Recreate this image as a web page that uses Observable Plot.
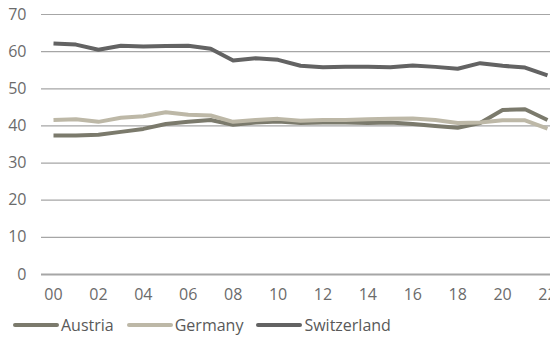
<!DOCTYPE html>
<html>
<head>
<meta charset="utf-8">
<script src="https://cdn.jsdelivr.net/npm/d3@7"></script>
<script src="https://cdn.jsdelivr.net/npm/@observablehq/plot@0.6"></script>
<style>
  html, body { margin: 0; padding: 0; background: #fff; overflow: hidden; }
  #chart { width: 550px; height: 345px; position: relative; font-family: "Open Sans", "Noto Sans", sans-serif; }
  .legend { position: absolute; left: 13px; top: 314px; display: flex; align-items: center; font-size: 16px; color: #595959; }
  .legend .item { display: flex; align-items: center; margin-right: 13px; }
  .legend .sw { width: 46px; height: 4px; border-radius: 2px; margin-right: 2px; }
</style>
</head>
<body>
<div id="chart"></div>
<script>
const years = d3.range(2000, 2023);
const austria = [37.4, 37.4, 37.6, 38.4, 39.2, 40.5, 41.1, 41.6, 40.3, 40.9, 41.2, 40.8, 40.9, 40.9, 40.8, 40.9, 40.5, 40.0, 39.5, 40.8, 44.3, 44.5, 41.6];
const germany = [41.6, 41.8, 41.1, 42.2, 42.6, 43.7, 43.0, 42.8, 41.1, 41.6, 41.9, 41.4, 41.6, 41.6, 41.8, 41.9, 42.0, 41.6, 40.8, 40.9, 41.5, 41.5, 39.3];
const switzerland = [62.2, 61.9, 60.5, 61.6, 61.4, 61.5, 61.6, 60.8, 57.6, 58.2, 57.8, 56.2, 55.8, 55.9, 55.9, 55.8, 56.3, 55.9, 55.4, 56.9, 56.2, 55.7, 53.6];
const seriesNames = ["Austria", "Germany", "Switzerland"];
const seriesColors = ["#7b7a6c", "#bdb8a7", "#636363"];
const yTicks = [0, 10, 20, 30, 40, 50, 60, 70];
const xTicks = d3.range(2000, 2023, 2);

const values = [austria, germany, switzerland];
const data = [];
seriesNames.forEach((name, i) => years.forEach((yr, j) => data.push({ name, year: yr, value: values[i][j] })));

const plot = Plot.plot({
  width: 550,
  height: 312,
  marginLeft: 41,
  marginRight: 0,
  marginTop: 14,
  marginBottom: 38,
  insetLeft: 12,
  insetRight: 3,
  style: { fontFamily: "'Open Sans', 'Noto Sans', sans-serif", fontSize: "16px", color: "#6b6b6b", overflow: "visible" },
  x: { domain: [2000, 2022], ticks: xTicks, tickFormat: d => String(d % 100).padStart(2, "0"), tickSize: 0, tickPadding: 14, label: null },
  y: { domain: [0, 70], ticks: yTicks, tickSize: 0, tickPadding: 15, label: null },
  color: { domain: seriesNames, range: seriesColors },
  marks: [
    Plot.ruleY(yTicks.filter(d => d > 0), { stroke: "#a6a6a6", strokeWidth: 1.2 }),
    Plot.ruleY([0], { stroke: "#a6a6a6", strokeWidth: 2.2 }),
    Plot.lineY(data, { x: "year", y: "value", z: "name", stroke: "name", strokeWidth: 4, strokeLinejoin: "round", strokeLinecap: "butt" })
  ]
});
document.getElementById("chart").appendChild(plot);

const legend = document.createElement("div");
legend.className = "legend";
seriesNames.forEach((n, i) => {
  const item = document.createElement("div");
  item.className = "item";
  const sw = document.createElement("span");
  sw.className = "sw";
  sw.style.background = seriesColors[i];
  const lab = document.createElement("span");
  lab.textContent = n;
  item.appendChild(sw);
  item.appendChild(lab);
  legend.appendChild(item);
});
document.getElementById("chart").appendChild(legend);
</script>
</body>
</html>
